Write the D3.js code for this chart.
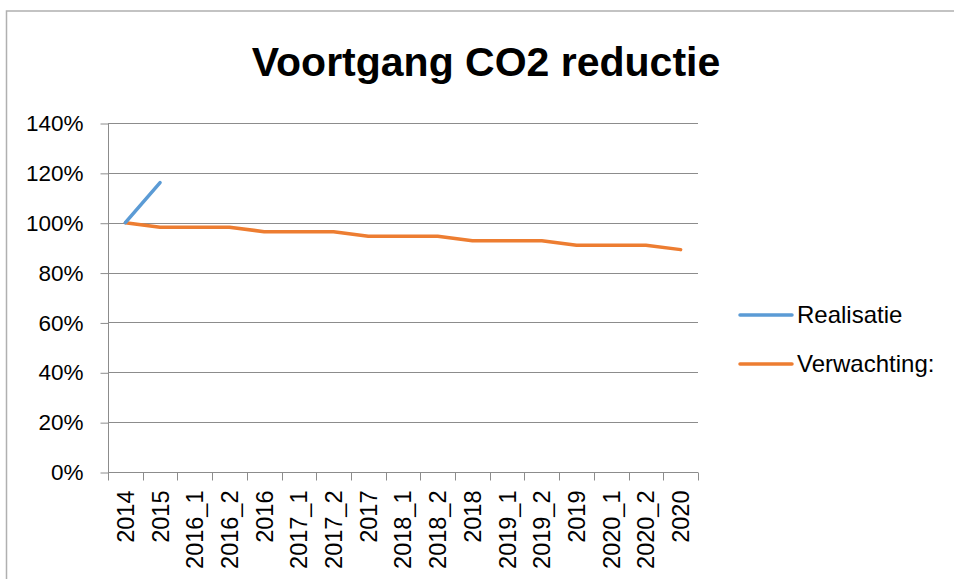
<!DOCTYPE html>
<html>
<head>
<meta charset="utf-8">
<script src="https://cdn.jsdelivr.net/npm/d3@7"></script>
<style>
  body { margin: 0; background: #fff; }
  text { font-family: "Liberation Sans", Arial, sans-serif; fill: #000; }
</style>
</head>
<body>
<div id="chart"></div>
<script>
// categories on the x axis
const categories = ["2014", "2015", "2016_1", "2016_2", "2016", "2017_1", "2017_2", "2017",
    "2018_1", "2018_2", "2018", "2019_1", "2019_2", "2019", "2020_1", "2020_2", "2020"]

// series values (fractions of the 2014 level)
const realisatie = [1.00, 1.161]
const verwachting = [1.00, 0.982, 0.982, 0.982, 0.964, 0.964, 0.964, 0.946,
    0.946, 0.946, 0.928, 0.928, 0.928, 0.910, 0.910, 0.910, 0.892]

const yTicks = [0, 0.2, 0.4, 0.6, 0.8, 1.0, 1.2, 1.4]
const seriesNames = ["Realisatie", "Verwachting:"]
const seriesColors = ["#5b9bd5", "#ed7d31"]

const width = 954,
    height = 579;
const plot = { left: 108, right: 698, top: 123, bottom: 472 };

const svg = d3.select("#chart")
    .append("svg")
    .attr("width", width)
    .attr("height", height);

// chart border
svg.append("rect")
    .attr("x", 6.5).attr("y", 11)
    .attr("width", 960).attr("height", 600)
    .attr("fill", "none")
    .attr("stroke", "#b0b0b0")
    .attr("stroke-width", 1.5);

// title
svg.append("text")
    .attr("x", 486).attr("y", 76)
    .attr("text-anchor", "middle")
    .style("font-weight", "bold")
    .style("font-size", "41px")
    .text("Voortgang CO2 reductie");

const x = d3.scaleBand()
    .domain(categories)
    .range([plot.left, plot.right]);

const y = d3.scaleLinear()
    .domain([0, 1.4])
    .range([plot.bottom, plot.top]);

// gridlines
svg.append("g")
    .selectAll("line")
    .data(yTicks.filter(d => d > 0))
    .join("line")
    .attr("x1", plot.left).attr("x2", plot.right)
    .attr("y1", d => Math.round(y(d)) + 0.5)
    .attr("y2", d => Math.round(y(d)) + 0.5)
    .attr("stroke", "#8c8c8c");

// y axis
const yAxis = svg.append("g")
    .attr("transform", `translate(${plot.left + 0.5},0.5)`)
    .call(d3.axisLeft(y).tickValues(yTicks).tickFormat(d3.format(".0%")).tickSize(8).tickPadding(17));
yAxis.selectAll("line, path").attr("stroke", "#8c8c8c");
yAxis.select(".domain").attr("d", `M0,${plot.top}V${plot.bottom}`);
yAxis.selectAll("text")
    .style("font-size", "22.5px")
    .style("font-family", "Liberation Sans, Arial, sans-serif");

// x axis with ticks between categories
const xAxis = svg.append("g")
    .attr("transform", `translate(0,${plot.bottom + 0.5})`);
xAxis.append("line")
    .attr("x1", plot.left).attr("x2", plot.right)
    .attr("stroke", "#8c8c8c");
xAxis.selectAll(".tick")
    .data(categories.concat(["end"]))
    .join("line")
    .attr("class", "tick")
    .attr("x1", (d, i) => Math.round(i < categories.length ? x(d) : plot.right) + 0.5)
    .attr("x2", (d, i) => Math.round(i < categories.length ? x(d) : plot.right) + 0.5)
    .attr("y1", 0).attr("y2", 8)
    .attr("stroke", "#8c8c8c");
xAxis.selectAll("text")
    .data(categories)
    .join("text")
    .attr("transform", d => `translate(${x(d) + x.bandwidth() / 2},18) rotate(-90)`)
    .attr("text-anchor", "end")
    .attr("dy", "0.36em")
    .style("font-size", "23.5px")
    .text(d => d);

// lines
const line = d3.line()
    .x((d, i) => x(categories[i]) + x.bandwidth() / 2)
    .y(d => y(d));

svg.append("path")
    .datum(verwachting)
    .attr("d", line)
    .attr("fill", "none")
    .attr("stroke", seriesColors[1])
    .attr("stroke-width", 3.5)
    .attr("stroke-linejoin", "round")
    .attr("stroke-linecap", "round");

svg.append("path")
    .datum(realisatie)
    .attr("d", line)
    .attr("fill", "none")
    .attr("stroke", seriesColors[0])
    .attr("stroke-width", 3.5)
    .attr("stroke-linejoin", "round")
    .attr("stroke-linecap", "round");

// legend
const legend = svg.append("g")
    .selectAll("g")
    .data(seriesNames)
    .join("g")
    .attr("transform", (d, i) => `translate(740,${315 + i * 49})`);
legend.append("line")
    .attr("x1", 0).attr("x2", 52)
    .attr("stroke", (d, i) => seriesColors[i])
    .attr("stroke-width", 3.5)
    .attr("stroke-linecap", "round");
legend.append("text")
    .attr("x", 57).attr("y", 8)
    .style("font-size", "24px")
    .text(d => d);
</script>
</body>
</html>
